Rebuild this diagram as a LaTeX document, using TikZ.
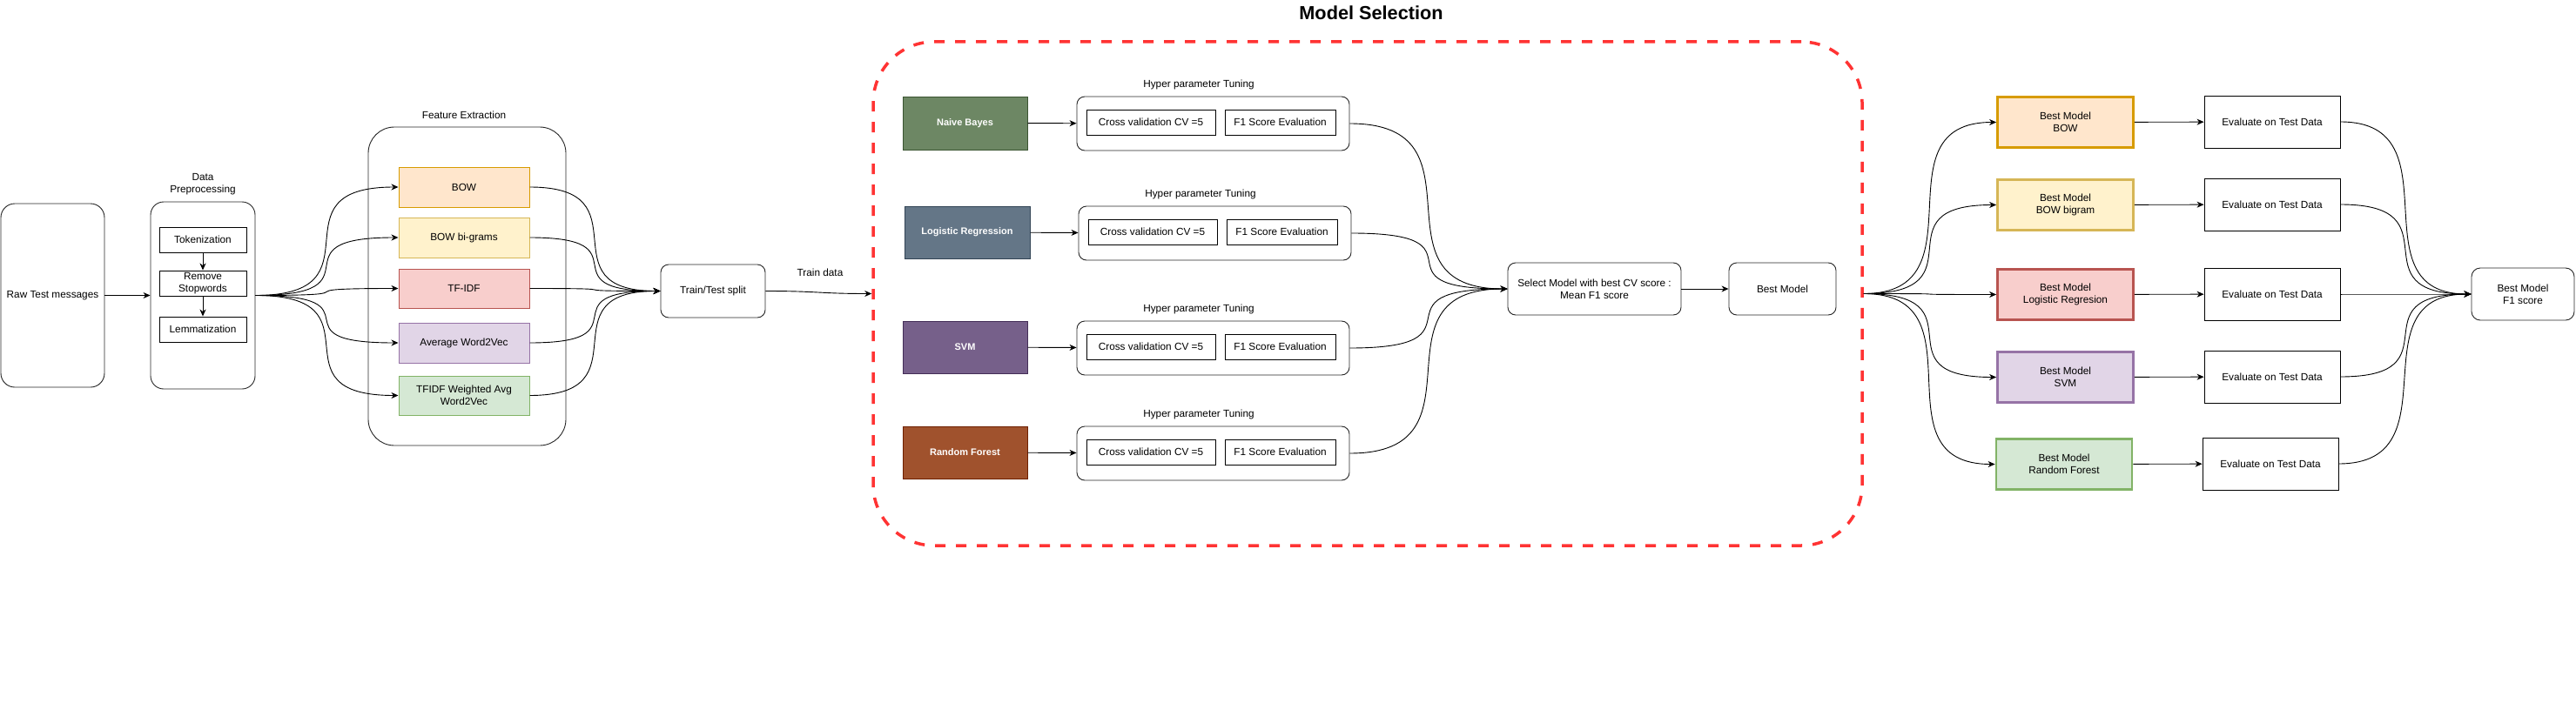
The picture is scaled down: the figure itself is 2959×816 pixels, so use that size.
\documentclass[tikz,border=0pt]{standalone}
\usepackage{fontspec}
\setmainfont{Liberation Sans}
\usetikzlibrary{arrows.meta}
\definecolor{orF}{HTML}{FFE6CC}\definecolor{orS}{HTML}{D79B00}
\definecolor{yeF}{HTML}{FFF2CC}\definecolor{yeS}{HTML}{D6B656}
\definecolor{reF}{HTML}{F8CECC}\definecolor{reS}{HTML}{B85450}
\definecolor{puF}{HTML}{E1D5E7}\definecolor{puS}{HTML}{9673A6}
\definecolor{grF}{HTML}{D5E8D4}\definecolor{grS}{HTML}{82B366}
\definecolor{nbF}{HTML}{6D8764}\definecolor{nbS}{HTML}{3A5431}
\definecolor{lrF}{HTML}{647687}\definecolor{lrS}{HTML}{314354}
\definecolor{svF}{HTML}{76608A}\definecolor{svS}{HTML}{432D57}
\definecolor{rfF}{HTML}{A0522D}\definecolor{rfS}{HTML}{6D1F00}
\definecolor{msred}{HTML}{FF3333}
\tikzset{
  conn/.style={draw=black, line width=0.9pt, -{Stealth[length=8pt,width=7pt,inset=2.5pt]}},
  sflow/.style={out=0,in=180,distance=#1},
  rbox/.style={draw=black!85, line width=0.9pt, rounded corners=9pt},
  sbox/.style={draw=black, line width=0.9pt},
  fbox/.style 2 args={draw=#2, fill=#1, line width=1pt},
  mbox/.style 2 args={draw=#2, fill=#1, line width=1pt, text=white, font=\fontsize{11}{13}\selectfont\bfseries},
  bmbox/.style 2 args={draw=#2, fill=#1, line width=2.8pt},
}
\begin{document}
\begin{tikzpicture}[x=1pt,y=-1pt,
  every node/.style={font=\fontsize{11.8}{14}\selectfont, inner sep=0pt, align=center}]
\fill[white] (0,0) rectangle (2959,816);
\useasboundingbox (0,0) rectangle (2959,816);

% Raw + preprocessing
\node[rbox, rounded corners=16pt, minimum width=119pt, minimum height=211pt] (raw) at (60.5,339.5) {Raw Test messages};
\node (dplbl) at (233,212) {Data\\Preprocessing};
\node[rbox, rounded corners=15pt, minimum width=120pt, minimum height=215pt] (dp) at (233,339.5) {};
\node[sbox, minimum width=100pt, minimum height=29pt] (tok) at (233,275.5) {Tokenization};
\node[sbox, minimum width=100pt, minimum height=29pt] (rem) at (233,325.5) {Remove\\Stopwords};
\node[sbox, minimum width=100pt, minimum height=29pt] (lem) at (233,378.5) {Lemmatization};
\draw[conn] (tok) -- (rem);
\draw[conn] (rem) -- (lem);
\draw[conn] (raw) -- (dp);

% Feature extraction
\node (felbl) at (533,132) {Feature Extraction};
\node[rbox, rounded corners=30pt, minimum width=227pt, minimum height=366pt] (fe) at (536.5,329) {};
\node[fbox={orF}{orS}, minimum width=150pt, minimum height=46pt] (bow) at (533,215) {BOW};
\node[fbox={yeF}{yeS}, minimum width=150pt, minimum height=46pt] (bowbi) at (533,273) {BOW bi-grams};
\node[fbox={reF}{reS}, minimum width=150pt, minimum height=45pt] (tfidf) at (533,331.5) {TF-IDF};
\node[fbox={puF}{puS}, minimum width=150pt, minimum height=46pt] (avgw) at (533,394) {Average Word2Vec};
\node[fbox={grF}{grS}, minimum width=150pt, minimum height=45pt] (tfw) at (533,454.5) {TFIDF Weighted Avg\\Word2Vec};
\foreach \t in {bow,bowbi,tfidf,avgw,tfw} \draw[conn] (dp.east) to[sflow=150pt] (\t.west);

% Train/test split
\node[rbox, minimum width=120pt, minimum height=61pt] (tts) at (819,334.5) {Train/Test split};
\foreach \s in {bow,bowbi,tfidf,avgw,tfw} \draw[conn] (\s.east) to[sflow=136pt] (tts.west);

% Model selection container
\node[draw=msred, line width=3.5pt, dash pattern=on 12pt off 12pt, rounded corners=70pt, minimum width=1136pt, minimum height=579pt] (ms) at (1571,337.5) {};
\node[font=\fontsize{21.7}{26}\selectfont\bfseries] (title) at (1575,15) {Model Selection};
\node (tdlbl) at (942,313) {Train data};
\draw[conn] (tts.east) to[sflow=60pt] (ms.west);

% Models
\node[mbox={nbF}{nbS}, minimum width=143pt, minimum height=61pt] (nb) at (1108.5,141.5) {Naive Bayes};
\node[mbox={lrF}{lrS}, minimum width=144pt, minimum height=60pt] (lr) at (1111,267) {Logistic Regression};
\node[mbox={svF}{svS}, minimum width=143pt, minimum height=60pt] (svm) at (1108.5,399) {SVM};
\node[mbox={rfF}{rfS}, minimum width=143pt, minimum height=60pt] (rf) at (1108.5,520) {Random Forest};

\foreach \n/\cx/\cy/\lx/\ly in {1/1393.5/142/1377/97, 2/1395.5/268/1379/223, 3/1393.5/400/1377/355, 4/1393.5/521/1377/476} {
  \node[rbox, minimum width=313pt, minimum height=62pt] (hpt\n) at (\cx,\cy) {};
  \node (hptl\n) at (\lx,\ly) {Hyper parameter Tuning};
  \node[sbox, minimum width=148pt, minimum height=29pt] (cv\n) at (\cx-71.5,\cy-1.5) {Cross validation CV =5};
  \node[sbox, minimum width=127pt, minimum height=29pt] (fs\n) at (\cx+77,\cy-1.5) {F1 Score Evaluation};
}
\draw[conn] (nb) -- (hpt1);
\draw[conn] (lr) -- (hpt2);
\draw[conn] (svm) -- (hpt3);
\draw[conn] (rf) -- (hpt4);

\node[rbox, minimum width=199pt, minimum height=60pt] (sel) at (1831.5,332) {Select Model with best CV score :\\Mean F1 score};
\node[rbox, minimum width=123pt, minimum height=60pt] (best) at (2047.5,332) {Best Model};
\foreach \i in {1,...,4} \draw[conn] (hpt\i.east) to[sflow=164pt] (sel.west);
\draw[conn] (sel) -- (best);

% Best models and evaluation
\node[bmbox={orF}{orS}, minimum width=156pt, minimum height=58pt] (bm1) at (2372.5,140.5) {Best Model\\BOW};
\node[bmbox={yeF}{yeS}, minimum width=156pt, minimum height=58pt] (bm2) at (2372.5,235.5) {Best Model\\BOW bigram};
\node[bmbox={reF}{reS}, minimum width=156pt, minimum height=58pt] (bm3) at (2372.5,338.5) {Best Model\\Logistic Regresion};
\node[bmbox={puF}{puS}, minimum width=156pt, minimum height=58pt] (bm4) at (2372.5,433.5) {Best Model\\SVM};
\node[bmbox={grF}{grS}, minimum width=156pt, minimum height=58pt] (bm5) at (2371,533.5) {Best Model\\Random Forest};

\node[sbox, minimum width=156pt, minimum height=60pt] (ev1) at (2610,140) {Evaluate on Test Data};
\node[sbox, minimum width=156pt, minimum height=60pt] (ev2) at (2610,235) {Evaluate on Test Data};
\node[sbox, minimum width=156pt, minimum height=60pt] (ev3) at (2610,338) {Evaluate on Test Data};
\node[sbox, minimum width=156pt, minimum height=60pt] (ev4) at (2610,433) {Evaluate on Test Data};
\node[sbox, minimum width=156pt, minimum height=60pt] (ev5) at (2608,533) {Evaluate on Test Data};

\node[rbox, rounded corners=10pt, minimum width=118pt, minimum height=60pt] (f1) at (2898,338) {Best Model\\F1 score};

\foreach \i in {1,...,5} {
  \draw[conn] (ms.east) to[sflow=140pt] (bm\i.west);
  \draw[conn] (bm\i) -- (ev\i);
  \draw[conn] (ev\i.east) to[sflow=136pt] (f1.west);
}
\end{tikzpicture}
\end{document}
